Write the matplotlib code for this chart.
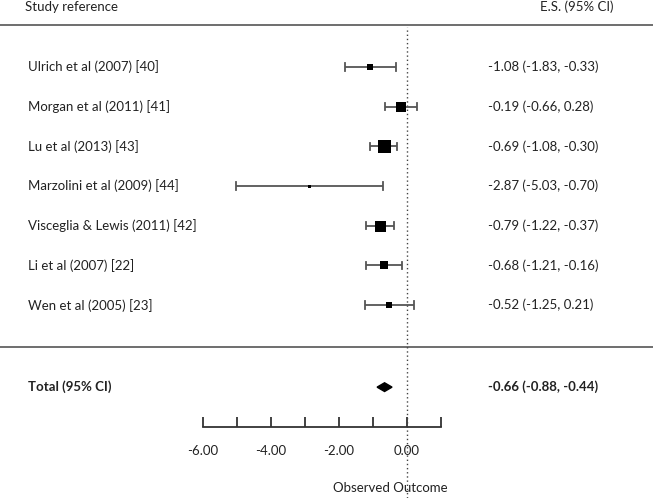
import matplotlib
matplotlib.use("Agg")
import matplotlib.pyplot as plt
from matplotlib.patches import Polygon

studies = ["Ulrich et al (2007) [40]", "Morgan et al (2011) [41]", "Lu et al (2013) [43]",
           "Marzolini et al (2009) [44]", "Visceglia & Lewis (2011) [42]", "Li et al (2007) [22]",
           "Wen et al (2005) [23]"]
es = [-1.08, -0.19, -0.69, -2.87, -0.79, -0.68, -0.52]
lo = [-1.83, -0.66, -1.08, -5.03, -1.22, -1.21, -1.25]
hi = [-0.33, 0.28, -0.30, -0.70, -0.37, -0.16, 0.21]
weights = [6.5, 10, 13, 3, 11, 8, 6.5]  # relative marker sizes
total_label = "Total (95% CI)"
total_es, total_lo, total_hi = -0.66, -0.88, -0.44
ticks = [-6, -5, -4, -3, -2, -1, 0, 1]
tick_labels = ["-6.00", "", "-4.00", "", "-2.00", "", "0.00", ""]

plt.rcParams['font.family'] = ['Lato', 'DejaVu Sans']
W, H = 653, 498
fig = plt.figure(figsize=(W / 100, H / 100), dpi=100)
ax = fig.add_axes([0, 0, 1, 1])
ppu = 34.0
x0 = 407
ax.set_xlim(-x0 / ppu, (W - x0) / ppu)
row_px = 39.67
ax.set_ylim((H - 67) / row_px + 1, (0 - 67) / row_px + 1)

for s in ["top", "left", "right"]:
    ax.spines[s].set_visible(False)
ax.spines["bottom"].set_position(("data", 10.07))
ax.spines["bottom"].set_bounds(-6, 1)
ax.spines["bottom"].set_color("#333333")
ax.spines["bottom"].set_linewidth(1.3)
ax.set_xticks(ticks)
ax.set_xticklabels(tick_labels, fontsize=9.5, color="#222222")
ax.tick_params(axis="x", direction="in", length=7, width=1.3, color="#333333", pad=13)
ax.set_yticks([])

fs = 9.5
col = "#222222"
ax.text(-x0 / ppu + 25 / ppu, -0.51, "Study reference", fontsize=fs, color=col, va="center")
ax.text(-x0 / ppu + 540 / ppu, -0.51, "E.S. (95% CI)", fontsize=fs, color=col, va="center")
ax.axhline(-0.06, color="#555555", lw=1.2)
ax.axhline(8.07, color="#555555", lw=1.2)
ax.axvline(0, ymin=0, ymax=1 - 27 / H, color="#444444", lw=1, ls=(0, (1, 2)))

for i, (name, e, l, h, w) in enumerate(zip(studies, es, lo, hi, weights)):
    y = i + 1
    ax.text(-x0 / ppu + 28 / ppu, y, name, fontsize=fs, color=col, va="center")
    ax.plot([l, h], [y, y], color="#555555", lw=1.3, solid_capstyle="butt")
    ax.plot([l, l], [y - 0.09, y + 0.09], color="#555555", lw=1.3)
    ax.plot([h, h], [y - 0.09, y + 0.09], color="#555555", lw=1.3)
    ax.plot([e], [y], marker="s", ms=w * 0.72, color="black", mew=0)
    ax.text(-x0 / ppu + 488 / ppu, y, f"{e:.2f} ({l:.2f}, {h:.2f})", fontsize=fs, color=col, va="center")

ty = 9.07
ax.text(-x0 / ppu + 28 / ppu, ty, total_label, fontsize=fs, color=col, va="center", fontweight="bold")
ax.text(-x0 / ppu + 488 / ppu, ty, f"{total_es:.2f} ({total_lo:.2f}, {total_hi:.2f})", fontsize=fs,
        color=col, va="center", fontweight="bold")
dh = 0.11
ax.add_patch(Polygon([[total_lo, ty], [total_es, ty - dh], [total_hi, ty], [total_es, ty + dh]],
                     closed=True, color="black"))

ax.text(-0.5, 11.61, "Observed Outcome", fontsize=fs, color=col, ha="center", va="center")

fig.savefig("out.png", dpi=100)
